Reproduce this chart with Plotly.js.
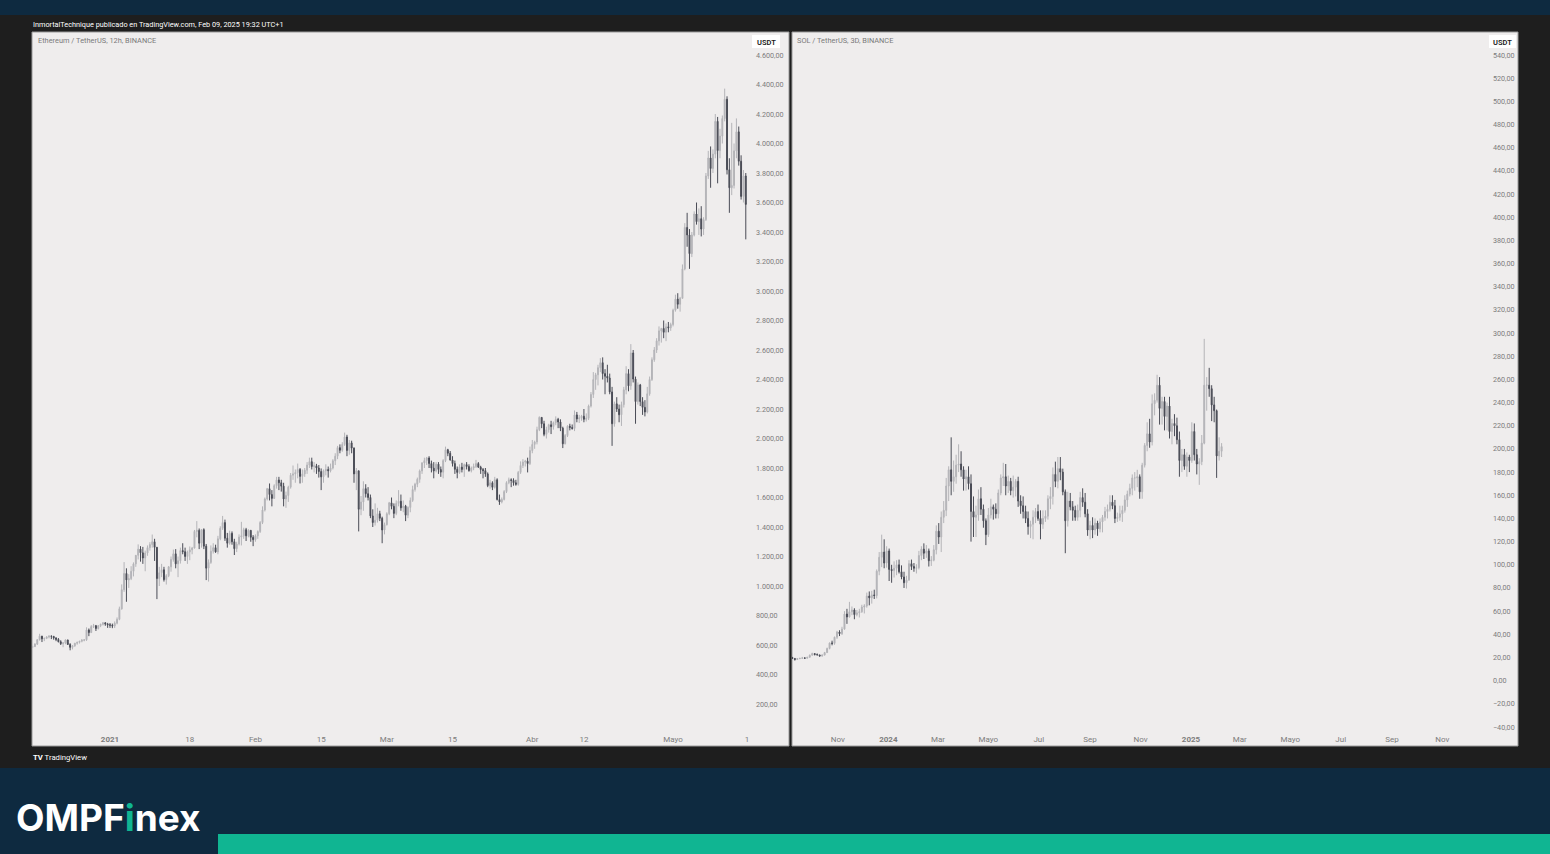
<!DOCTYPE html>
<html><head><meta charset="utf-8">
<script src="https://cdn.plot.ly/plotly-3.0.1.min.js"></script>
<style>html,body{margin:0;padding:0;background:#1e1e1e;overflow:hidden}#chart{width:1550px;height:854px}</style>
</head><body><div id="chart"></div>
<script>
// ---------- ETH / USDT, 12h candles, Binance (starting 2020-12-15 12:00) ----------
const ethStart = '2020-12-15T12:00:00Z';
const ethStepHours = 12;
const ethOpen = [
585,589,606,636,660,642,645,654,660,659,648,638,622,609,614,634,604,584,594,612,618,626,632,635,702,684,725,731,712,731,740,751,742,
737,734,729,748,774,845,975,1085,1041,1050,1100,1150,1208,1250,1225,1190,1224,1260,1281,1300,1262,1050,1090,1110,1043,1070,1130,1180,1218,1150,1171,1240,1233,1200,1230,1245,1257,1370,1377,1290,1382,1270,1121,1160,1236,1260,1231,1320,1391,1430,1324,1290,1357,1300,1253,1285,1332,1340,1382,1340,1377,1330,
1314,1340,1369,1430,1515,1590,1660,1620,1594,1680,1719,1700,1677,1590,1614,1670,1751,1760,1769,1790,1743,1760,1785,1820,1843,1810,1815,1800,1776,1740,1781,1790,1781,1800,1849,1880,1938,1920,1960,2010,1919,1970,1935,1760,1781,1520,1570,1660,1626,1600,1475,1430,1446,1490,1459,1380,
1416,1490,1564,1540,1492,1560,1575,1530,1541,1480,1533,1580,1654,1690,1723,1780,1834,1850,1868,1830,1799,1780,1826,1790,1772,1850,1924,1900,1854,1830,1791,1770,1806,1790,1823,1810,1782,1800,1810,1830,1806,1790,1782,1760,1681,1700,1669,1720,1586,1570,1587,1640,1701,1720,1716,1700,1689,1770,1817,1840,1846,1830,
1918,1960,1977,2060,2143,2100,2028,2060,2093,2080,2107,2130,2112,2070,1964,2020,2083,2075,2068,2160,2133,2140,2151,2130,2137,2220,2299,2400,2432,2480,2514,2440,2422,2410,2316,2100,2235,2200,2161,2230,2330,2440,2357,2580,2403,2250,2363,2250,2211,2180,2303,2400,2534,2600,2662,2730,2746,2720,2757,2750,
2773,2870,2945,2910,2950,3150,3431,3380,3253,3380,3522,3470,3490,3420,3484,3780,3902,3830,3928,4150,3952,4050,4169,4300,3822,3700,3716,3950,4079,3880,3641,3780];
const ethHigh = [
595,612,640,676,662,650,660,666,664,660,652,647,632,620,638,636,612,600,614,622,627,640,640,720,712,735,743,736,735,745,754,754,750,
749,745,760,787,860,1011,1162,1120,1080,1134,1160,1210,1282,1270,1265,1240,1275,1297,1349,1320,1265,1130,1150,1130,1080,1135,1200,1247,1250,1200,1260,1290,1260,1240,1268,1265,1380,1440,1390,1385,1391,1285,1180,1275,1290,1280,1340,1405,1475,1450,1360,1375,1370,1320,1300,1350,1435,1395,1394,1385,1380,1345,
1350,1377,1440,1540,1600,1665,1695,1650,1690,1740,1740,1720,1700,1640,1680,1766,1817,1790,1830,1800,1790,1800,1840,1870,1870,1840,1828,1820,1797,1790,1825,1810,1830,1860,1900,1950,1960,1975,2040,2025,1990,1985,1940,1800,1782,1610,1710,1690,1670,1620,1520,1560,1530,1510,1470,1430,
1500,1570,1600,1560,1580,1650,1620,1580,1550,1540,1600,1680,1700,1735,1790,1840,1870,1875,1880,1850,1840,1840,1840,1810,1860,1945,1930,1915,1880,1850,1810,1825,1835,1830,1840,1825,1810,1830,1855,1840,1815,1800,1800,1770,1720,1710,1740,1730,1620,1600,1650,1710,1735,1730,1730,1720,1780,1845,1860,1855,1870,1945,
1990,1985,2080,2150,2145,2120,2080,2100,2120,2115,2150,2140,2130,2080,2030,2090,2100,2095,2190,2180,2160,2160,2200,2170,2230,2315,2450,2445,2500,2545,2550,2470,2500,2440,2350,2250,2280,2230,2250,2350,2490,2470,2640,2600,2420,2380,2370,2280,2260,2350,2420,2550,2620,2680,2760,2750,2800,2780,2790,2785,
2880,2975,2985,2960,3180,3460,3530,3420,3400,3540,3600,3560,3575,3500,3800,3950,3980,3960,4200,4180,4100,4190,4372,4320,3900,4140,4000,4170,4115,3920,3820,3800];
const ethLow = [
579,588,600,630,620,626,640,645,640,636,626,618,600,585,605,600,564,570,588,602,610,618,625,628,660,683,715,695,705,721,732,730,716,
716,714,715,740,768,840,960,893,987,1040,1065,1130,1180,1165,1150,1100,1205,1240,1260,1170,911,1000,1060,1030,1010,1060,1097,1165,1120,1060,1152,1215,1170,1150,1175,1215,1255,1330,1250,1260,1250,1040,1030,1150,1220,1225,1215,1310,1380,1306,1260,1280,1280,1210,1230,1275,1275,1320,1305,1330,1300,1270,
1300,1320,1360,1420,1505,1580,1580,1540,1590,1660,1650,1640,1540,1530,1570,1660,1720,1700,1730,1695,1700,1740,1760,1800,1790,1770,1760,1735,1650,1700,1750,1735,1770,1790,1820,1860,1900,1910,1950,1880,1890,1900,1700,1650,1370,1480,1510,1600,1580,1460,1400,1410,1430,1440,1290,1350,
1410,1480,1520,1460,1480,1540,1510,1500,1440,1460,1500,1570,1640,1670,1700,1760,1800,1820,1800,1770,1730,1770,1760,1740,1730,1840,1880,1850,1810,1760,1730,1760,1770,1740,1790,1775,1770,1785,1800,1800,1760,1730,1740,1670,1660,1650,1660,1580,1550,1560,1580,1630,1690,1670,1680,1680,1680,1760,1800,1810,1770,1820,
1900,1930,1960,2050,2070,2015,2000,2040,2030,2060,2090,2070,2050,1935,1960,2010,2055,2060,2050,2110,2105,2120,2110,2115,2125,2210,2275,2330,2360,2450,2400,2300,2380,2300,1950,2080,2180,2110,2085,2210,2300,2320,2330,2380,2100,2230,2220,2160,2150,2170,2290,2390,2520,2580,2630,2650,2680,2660,2720,2730,
2760,2860,2880,2860,2950,3140,3300,3150,3230,3370,3450,3380,3370,3380,3475,3760,3700,3800,3900,3730,3900,4000,4150,3790,3530,3650,3695,3900,3850,3620,3600,3350];
const ethClose = [
589,606,636,660,642,645,654,660,659,648,638,622,609,614,634,604,584,594,612,618,626,632,635,702,684,725,731,712,731,740,751,742,737,
734,729,748,774,845,975,1085,1041,1050,1100,1150,1208,1250,1225,1190,1224,1260,1281,1300,1262,1050,1090,1110,1043,1070,1130,1180,1218,1150,1171,1240,1233,1200,1230,1245,1257,1370,1377,1290,1382,1270,1121,1160,1236,1260,1231,1320,1391,1430,1324,1290,1357,1300,1253,1285,1332,1340,1382,1340,1377,1330,1314,
1340,1369,1430,1515,1590,1660,1620,1594,1680,1719,1700,1677,1590,1614,1670,1751,1760,1769,1790,1743,1760,1785,1820,1843,1810,1815,1800,1776,1740,1781,1790,1781,1800,1849,1880,1938,1920,1960,2010,1919,1970,1935,1760,1781,1520,1570,1660,1626,1600,1475,1430,1446,1490,1459,1380,1416,
1490,1564,1540,1492,1560,1575,1530,1541,1480,1533,1580,1654,1690,1723,1780,1834,1850,1868,1830,1799,1780,1826,1790,1772,1850,1924,1900,1854,1830,1791,1770,1806,1790,1823,1810,1782,1800,1810,1830,1806,1790,1782,1760,1681,1700,1669,1720,1586,1570,1587,1640,1701,1720,1716,1700,1689,1770,1817,1840,1846,1830,1918,
1960,1977,2060,2143,2100,2028,2060,2093,2080,2107,2130,2112,2070,1964,2020,2083,2075,2068,2160,2133,2140,2151,2130,2137,2220,2299,2400,2432,2480,2514,2440,2422,2410,2316,2100,2235,2200,2161,2230,2330,2440,2357,2580,2403,2250,2363,2250,2211,2180,2303,2400,2534,2600,2662,2730,2746,2720,2757,2750,2773,
2870,2945,2910,2950,3150,3431,3380,3253,3380,3522,3470,3490,3420,3484,3780,3902,3830,3928,4150,3952,4050,4169,4300,3822,3700,3716,3950,4079,3880,3641,3780,3587];

// ---------- SOL / USDT, 3D candles, Binance (starting 2023-09-07) ----------
const solStart = '2023-09-07T00:00:00Z';
const solStepHours = 72;
const solOpen = [
20.0,19.2,18.3,19.0,19.3,19.6,19.4,20.2,21.9,23.4, 22.5,22.2,21.2,22.1,24.2,27.8,32.4,32.2,37.5,42.0,
40.5,44.5,57.5,55.0,59.5,61.0,57.0,58.5,59.5,63.5, 64.5,73.0,71.5,74.0,73.5,94.5,106.5,111.0,101.5,112.0,
96.0,95.0,97.0,100.0,94.0,89.5,84.5,87.0,101.0,98.5, 97.0,97.5,108.0,113.5,110.0,112.0,103.5,104.0,113.0,129.0,
124,141,147,168,182,172,176,186,187,182, 174,176,170,146,141,143,157,148,138,126,
143,150,148,144,162,175,176,168,172,164, 167,172,155,151,146,140,133,135,141,146,
140,135,140,142,157,159,178,172,183,180, 163,138,155,150,147,141,147,158,154,144,
130,134,130,136,131,137,141,146,148,154, 151,140,141,144,147,156,161,166,175,175,
176,163,186,203,213,206,239,242,255,235, 241,228,237,215,222,220,208,190,195,185,
193,190,215,195,187,189,205,255,255,252, 238,233,194,198];
const solHigh = [
20.5,19.5,19.3,19.6,20.5,20.0,20.4,22.6,24.1,23.6, 23.5,22.4,22.5,24.8,28.5,33.0,34.5,38.0,43.0,43.5,
46.5,60.0,62.0,68.0,64.0,62.5,61.0,62.0,65.5,66.0, 76.0,77.0,77.5,78.5,96.0,111.0,126.0,122.0,116.0,114.0,
100.0,103.0,104.0,104.5,99.5,94.0,90.5,104.0,104.5,101.5, 100.5,112.0,116.0,118.5,117.0,114.0,107.5,117.0,134.0,136.0,
146,155,175,185,210,190,195,204,198,185, 182,185,178,159,151,165,167,152,140,149,
157,152,153,165,178,188,187,177,175,177, 174,176,160,159,151,146,138,147,149,152,
147,147,147,160,167,184,189,193,193,183, 165,163,162,155,151,152,163,166,162,148,
138,141,140,138,140,143,150,152,160,160, 156,145,151,151,160,164,170,178,180,182,
178,188,205,223,226,247,248,264,262,245, 245,240,245,226,230,227,215,200,200,197,
195,223,222,200,192,212,295,262,270,255, 245,234,210,205];
const solLow = [
19.0,17.3,18.0,18.6,19.0,19.0,19.2,20.0,21.8,21.8, 21.9,20.7,20.8,21.8,24.0,27.0,30.5,31.0,36.0,38.5,
39.5,44.0,49.0,54.5,56.5,53.0,55.5,54.5,58.5,58.0, 63.0,65.0,66.5,70.5,71.0,91.0,98.0,97.0,97.5,86.0,
84.5,89.0,91.0,92.5,87.5,80.0,79.5,86.0,95.5,94.0, 92.5,96.0,104.0,105.0,106.0,98.5,99.0,103.0,109.0,118.0,
111,136,142,155,160,163,170,180,176,164, 164,165,120,124,124,138,143,132,117,124,
140,139,140,140,160,168,160,162,160,158, 159,150,144,140,136,126,123,122,136,138,
122,131,137,139,148,152,167,166,173,160, 110,133,147,138,138,138,141,150,141,125,
122,123,126,125,128,128,138,140,146,148, 136,137,138,137,145,150,159,160,164,167,
157,157,184,198,201,203,229,240,221,221, 216,216,209,204,211,204,176,180,182,176,
180,188,190,178,169,186,204,233,245,224, 223,175,190,193];
const solClose = [
19.2,18.3,19.0,19.3,19.6,19.4,20.2,21.9,23.4,22.5, 22.2,21.2,22.1,24.2,27.8,32.4,32.2,37.5,42.0,40.5,
44.5,57.5,55.0,59.5,61.0,57.0,58.5,59.5,63.5,64.5, 73.0,71.5,74.0,73.5,94.5,106.5,111.0,101.5,112.0,96.0,
95.0,97.0,100.0,94.0,89.5,84.5,87.0,101.0,98.5,97.0, 97.5,108.0,113.5,110.0,112.0,103.5,104.0,113.0,129.0,124.0,
141,147,168,182,172,176,186,187,182,174, 176,170,146,141,143,157,148,138,126,143,
150,148,144,162,175,176,168,172,164,167, 172,155,151,146,140,133,135,141,146,140,
135,140,142,157,159,178,172,183,180,163, 138,155,150,147,141,147,158,154,144,130,
134,130,136,131,137,141,146,148,154,151, 140,141,144,147,156,161,166,175,175,176,
163,186,203,213,206,239,242,255,235,241, 228,237,215,222,220,208,190,195,185,193,
190,215,195,187,189,205,255,255,252,238, 233,194,198,202];

// ---------- axis ticks ----------
const ethTickDates = ['2021-01-01','2021-01-18','2021-02-01','2021-02-15','2021-03-01','2021-03-15','2021-04-01','2021-04-12','2021-05-01','2021-05-16 18:00'];
const ethTickText  = ['<b>2021</b>','18','Feb','15','Mar','15','Abr','12','Mayo','1'];
const ethPriceTicks = [200,400,600,800,1000,1200,1400,1600,1800,2000,2200,2400,2600,2800,3000,3200,3400,3600,3800,4000,4200,4400,4600];
const solTickDates = ['2023-11-01','2024-01-01','2024-03-01','2024-05-01','2024-07-01','2024-09-01','2024-11-01','2025-01-01','2025-03-01','2025-05-01','2025-07-01','2025-09-01','2025-11-01'];
const solTickText  = ['Nov','<b>2024</b>','Mar','Mayo','Jul','Sep','Nov','<b>2025</b>','Mar','Mayo','Jul','Sep','Nov'];
const solPriceTicks = [-40,-20,0,20,40,60,80,100,120,140,160,180,200,220,240,260,280,300,320,340,360,380,400,420,440,460,480,500,520,540];

// ---------- texts ----------
const headerText = 'InmortalTechnique publicado en TradingView.com, Feb 09, 2025 19:32 UTC+1';
const ethTitle = 'Ethereum / TetherUS, 12h, BINANCE';
const solTitle = 'SOL / TetherUS, 3D, BINANCE';

function timeSeq(startIso, stepHours, n){
  const t0 = Date.parse(startIso), out = [];
  for (let i = 0; i < n; i++) out.push(new Date(t0 + i*stepHours*3600e3).toISOString().slice(0,16).replace('T',' '));
  return out;
}
const ethDates = timeSeq(ethStart, ethStepHours, ethClose.length);
const solDates = timeSeq(solStart, solStepHours, solClose.length);

const W = 1550, H = 854;
const px = x => x / W, py = y => 1 - y / H;

const UP = '#b4b4b8', DOWN = '#4a4c56';
function candle(x, o, h, l, c, xa, ya){
  return {type:'candlestick', x:x, open:o, high:h, low:l, close:c, xaxis:xa, yaxis:ya,
    increasing:{line:{color:UP, width:1}, fillcolor:UP},
    decreasing:{line:{color:DOWN, width:1}, fillcolor:DOWN},
    whiskerwidth:0, hoverinfo:'skip', showlegend:false};
}
const traces = [
  candle(ethDates, ethOpen, ethHigh, ethLow, ethClose, 'x', 'y'),
  candle(solDates, solOpen, solHigh, solLow, solClose, 'x2', 'y2')
];

const xFont = {family:'Roboto, Liberation Sans, sans-serif', size:8, color:'#7c7c7c'};
const yFont = {family:'Roboto, Liberation Sans, sans-serif', size:7.2, color:'#7c7c7c'};
const xCommon = {type:'date', showgrid:false, zeroline:false, showline:false, ticks:'', tickfont:xFont,
  tickmode:'array', rangeslider:{visible:false}, fixedrange:true, ticklabelstandoff:3};
const yCommon = {side:'right', showgrid:false, zeroline:false, showline:false, ticks:'', tickfont:yFont,
  tickmode:'array', tickformat:',.2f', fixedrange:true, ticklabelstandoff:4};

const layout = {
  width:W, height:H, margin:{l:0,r:0,t:0,b:0},
  paper_bgcolor:'#1e1e1e', plot_bgcolor:'rgba(0,0,0,0)',
  separators:',.', showlegend:false, hovermode:false, boxgap:0.45,
  xaxis: Object.assign({}, xCommon, {domain:[px(32), px(751)], anchor:'y',
    range:['2020-12-15 09:01','2021-05-17 14:38'], tickvals:ethTickDates, ticktext:ethTickText}),
  yaxis: Object.assign({}, yCommon, {domain:[py(730), py(32)], anchor:'x',
    range:[23.7, 4755.9], tickvals:ethPriceTicks}),
  xaxis2: Object.assign({}, xCommon, {domain:[px(792), px(1487)], anchor:'y2',
    range:['2023-09-06 13:26','2025-12-24 21:36'], tickvals:solTickDates, ticktext:solTickText}),
  yaxis2: Object.assign({}, yCommon, {domain:[py(730), py(32)], anchor:'x2',
    range:[-42.59, 559.85], tickvals:solPriceTicks, ticklabelstandoff:5}),
  shapes:[
    {type:'rect', xref:'paper', yref:'paper', x0:0, x1:1, y0:py(15), y1:1, fillcolor:'#0e2a40', line:{width:0}, layer:'below'},
    {type:'rect', xref:'paper', yref:'paper', x0:0, x1:1, y0:0, y1:py(768), fillcolor:'#0e2a40', line:{width:0}, layer:'below'},
    {type:'rect', xref:'paper', yref:'paper', x0:px(218), x1:1, y0:0, y1:py(834), fillcolor:'#10b592', line:{width:0}, layer:'below'},
    {type:'rect', xref:'paper', yref:'paper', x0:px(32), x1:px(789), y0:py(746), y1:py(32), fillcolor:'#efeded', line:{color:'#9a9a9a', width:1}, layer:'below'},
    {type:'rect', xref:'paper', yref:'paper', x0:px(792), x1:px(1518), y0:py(746), y1:py(32), fillcolor:'#efeded', line:{color:'#9a9a9a', width:1}, layer:'below'},
    {type:'rect', xref:'paper', yref:'paper', x0:px(752), x1:px(780), y0:py(48), y1:py(35), fillcolor:'#ffffff', line:{width:0}, layer:'below'},
    {type:'rect', xref:'paper', yref:'paper', x0:px(1489), x1:px(1516), y0:py(48), y1:py(35), fillcolor:'#ffffff', line:{width:0}, layer:'below'}
  ],
  annotations:[
    {xref:'paper', yref:'paper', x:px(31), y:py(24), xanchor:'left', yanchor:'middle', showarrow:false,
     text:headerText, font:{family:'Roboto, sans-serif', size:7.3, color:'#ffffff'}},
    {xref:'paper', yref:'paper', x:px(36), y:py(41), xanchor:'left', yanchor:'middle', showarrow:false,
     text:ethTitle, font:{family:'Roboto, sans-serif', size:7.4, color:'#7a7a7a'}},
    {xref:'paper', yref:'paper', x:px(795), y:py(41), xanchor:'left', yanchor:'middle', showarrow:false,
     text:solTitle, font:{family:'Roboto, sans-serif', size:7.4, color:'#7a7a7a'}},
    {xref:'paper', yref:'paper', x:px(766), y:py(42), xanchor:'center', yanchor:'middle', showarrow:false,
     text:'USDT', font:{family:'Roboto, sans-serif', size:7.5, color:'#1a1a1a', weight:600}},
    {xref:'paper', yref:'paper', x:px(1502.5), y:py(42), xanchor:'center', yanchor:'middle', showarrow:false,
     text:'USDT', font:{family:'Roboto, sans-serif', size:7.5, color:'#1a1a1a', weight:600}},
    {xref:'paper', yref:'paper', x:px(31), y:py(757), xanchor:'left', yanchor:'middle', showarrow:false,
     text:'<b>TV</b> TradingView', font:{family:'Roboto, sans-serif', size:7.7, color:'#ffffff'}},
    {xref:'paper', yref:'paper', x:px(14), y:py(817), xanchor:'left', yanchor:'middle', showarrow:false,
     text:'OMPF<span style="color:#10b592">i</span>nex', font:{family:'Inter, Roboto, sans-serif', size:37, color:'#ffffff', weight:700}}
  ]
};

Plotly.newPlot('chart', traces, layout, {staticPlot:true, displayModeBar:false});
</script>
</body></html>
